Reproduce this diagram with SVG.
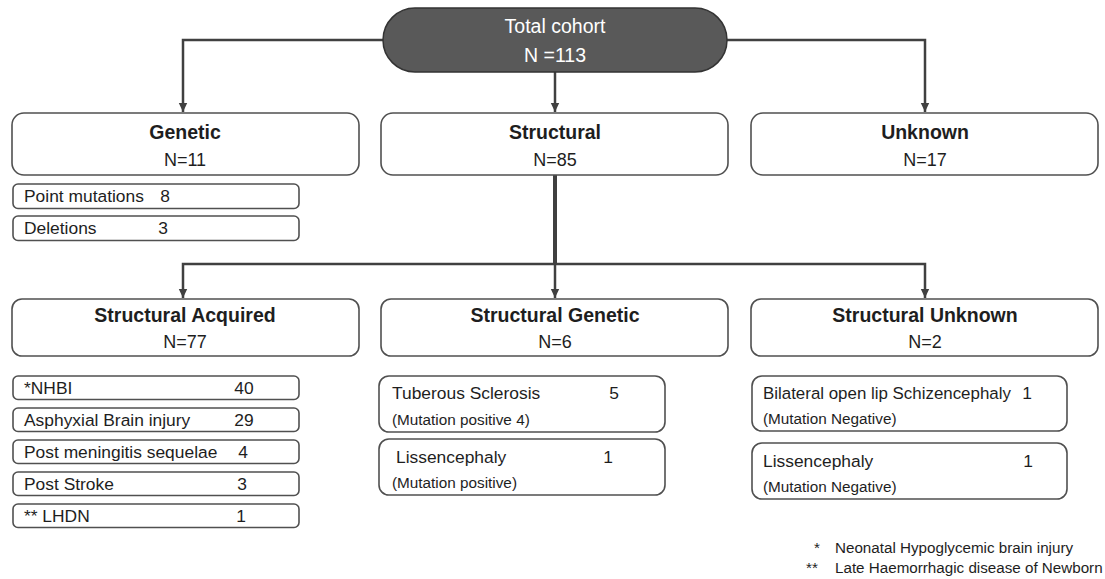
<svg xmlns="http://www.w3.org/2000/svg" width="1105" height="579" viewBox="0 0 1105 579">
<style>
text{font-family:"Liberation Sans",Arial,sans-serif;fill:#1e1e1e}
.box{fill:#fff;stroke:#505050;stroke-width:1.6}
.h{font-size:19.5px;font-weight:bold;text-anchor:middle}
.n{font-size:18px;text-anchor:middle}
.s{font-size:17.4px}
.p{font-size:15.3px}
.c{text-anchor:middle}
.con{fill:none;stroke:#404040;stroke-width:2.5}
.fn{font-size:15.2px}
</style>
<defs>
<marker id="ah" markerUnits="userSpaceOnUse" markerWidth="10" markerHeight="10" refX="9" refY="5" orient="auto">
<path d="M0,0.8 L9,5 L0,9.2 z" fill="#404040"/>
</marker>
</defs>
<g id="connectors">
<path class="con" d="M383,40 H183 V112" marker-end="url(#ah)"/>
<path class="con" d="M727,40 H925 V112" marker-end="url(#ah)"/>
<path class="con" d="M555,72 V112" marker-end="url(#ah)"/>
<path class="con" d="M555,175 V264" style="stroke-width:4"/>
<path class="con" d="M555,264 H183 V298" marker-end="url(#ah)"/>
<path class="con" d="M555,264 H925 V298" marker-end="url(#ah)"/>
<path class="con" d="M555,264 V298" marker-end="url(#ah)"/>
</g>
<g id="total">
<rect x="383" y="8" width="344" height="64" rx="32" fill="#595959" stroke="#333" stroke-width="1.5"/>
<text x="555" y="33" class="c" style="font-size:19.5px;fill:#fff">Total cohort</text>
<text x="555" y="62" class="c" style="font-size:19.5px;fill:#fff">N =113</text>
</g>
<g id="genetic">
<rect class="box" x="12" y="113" width="347" height="62" rx="12"/>
<text x="185" y="139" class="h">Genetic</text>
<text x="185" y="166" class="n">N=11</text>
</g>
<g id="structural">
<rect class="box" x="381" y="113" width="347" height="62" rx="12"/>
<text x="555" y="139" class="h">Structural</text>
<text x="555" y="166" class="n">N=85</text>
</g>
<g id="unknown">
<rect class="box" x="751" y="113" width="347" height="62" rx="12"/>
<text x="925" y="139" class="h">Unknown</text>
<text x="925" y="166" class="n">N=17</text>
</g>
<g id="point-mutations">
<rect class="box" x="13" y="184" width="286" height="24.5" rx="5"/>
<text x="24" y="202" class="s">Point mutations</text>
<text x="165" y="202" class="s c">8</text>
</g>
<g id="deletions">
<rect class="box" x="13" y="216" width="286" height="24.5" rx="5"/>
<text x="24" y="234" class="s">Deletions</text>
<text x="163" y="234" class="s c">3</text>
</g>
<g id="structural-acquired">
<rect class="box" x="12" y="299" width="347" height="57" rx="10"/>
<text x="185" y="322" class="h">Structural Acquired</text>
<text x="185" y="348" class="n">N=77</text>
</g>
<g id="structural-genetic">
<rect class="box" x="381" y="299" width="347" height="57" rx="10"/>
<text x="555" y="322" class="h">Structural Genetic</text>
<text x="555" y="348" class="n">N=6</text>
</g>
<g id="structural-unknown">
<rect class="box" x="751" y="299" width="347" height="57" rx="10"/>
<text x="925" y="322" class="h">Structural Unknown</text>
<text x="925" y="348" class="n">N=2</text>
</g>
<g id="nhbi">
<rect class="box" x="13" y="376" width="286" height="23.5" rx="5"/>
<text x="24" y="394" class="s">*NHBI</text>
<text x="244" y="394" class="s c">40</text>
</g>
<g id="asphyxial">
<rect class="box" x="13" y="408" width="286" height="23.5" rx="5"/>
<text x="24" y="426" class="s">Asphyxial Brain injury</text>
<text x="244" y="426" class="s c">29</text>
</g>
<g id="post-meningitis">
<rect class="box" x="13" y="440" width="286" height="23.5" rx="5"/>
<text x="24" y="458" class="s">Post meningitis sequelae</text>
<text x="243" y="458" class="s c">4</text>
</g>
<g id="post-stroke">
<rect class="box" x="13" y="472" width="286" height="23.5" rx="5"/>
<text x="24" y="490" class="s">Post Stroke</text>
<text x="242" y="490" class="s c">3</text>
</g>
<g id="lhdn">
<rect class="box" x="13" y="504" width="286" height="23.5" rx="5"/>
<text x="24" y="522" class="s">** LHDN</text>
<text x="241" y="522" class="s c">1</text>
</g>
<g id="tuberous">
<rect class="box" x="379" y="376" width="286" height="56" rx="10"/>
<text x="392" y="399" class="s">Tuberous Sclerosis</text>
<text x="614" y="399" class="s c">5</text>
<text x="392" y="425" class="p">(Mutation positive 4)</text>
</g>
<g id="lissencephaly-genetic">
<rect class="box" x="379" y="439" width="286" height="56" rx="10"/>
<text x="396" y="463" class="s">Lissencephaly</text>
<text x="608" y="463" class="s c">1</text>
<text x="392" y="488" class="p">(Mutation positive)</text>
</g>
<g id="schizencephaly">
<rect class="box" x="752" y="376" width="315" height="55" rx="10"/>
<text x="763" y="399" class="s" style="font-size:16.9px">Bilateral open lip Schizencephaly</text>
<text x="1027" y="399" class="s c">1</text>
<text x="763" y="424" class="p">(Mutation Negative)</text>
</g>
<g id="lissencephaly-unknown">
<rect class="box" x="752" y="443" width="315" height="56" rx="10"/>
<text x="763" y="467" class="s">Lissencephaly</text>
<text x="1028" y="467" class="s c">1</text>
<text x="763" y="492" class="p">(Mutation Negative)</text>
</g>
<g id="footnotes">
<text x="817" y="553" class="fn c">*</text>
<text x="835" y="553" class="fn">Neonatal Hypoglycemic brain injury</text>
<text x="812" y="573" class="fn c">**</text>
<text x="835" y="573" class="fn">Late Haemorrhagic disease of Newborn</text>
</g>
</svg>
